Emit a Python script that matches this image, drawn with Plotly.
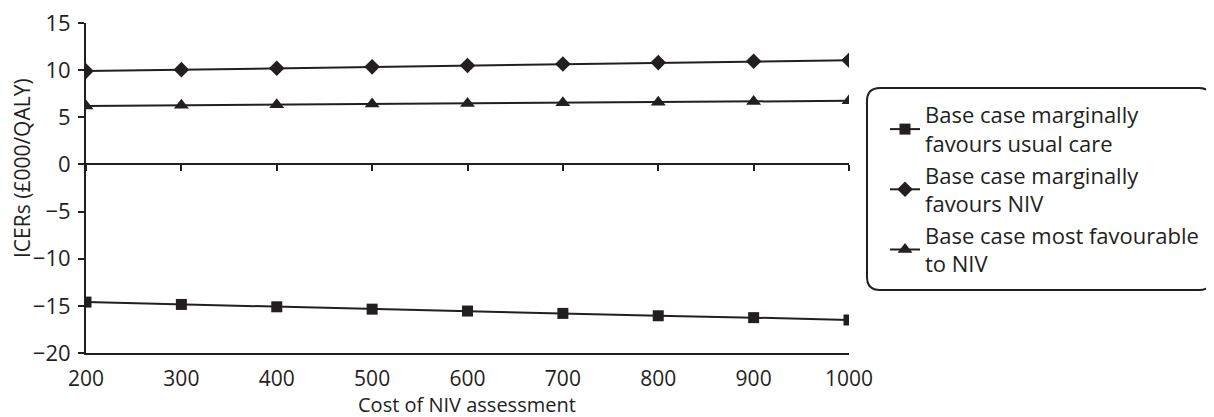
import plotly.graph_objects as go

cost = [200, 300, 400, 500, 600, 700, 800, 900, 1000]
usual_care = [-14.6, -14.85, -15.1, -15.35, -15.55, -15.8, -16.05, -16.25, -16.5]
marg_niv = [9.9, 10.05, 10.2, 10.35, 10.5, 10.65, 10.8, 10.95, 11.05]
most_niv = [6.2, 6.27, 6.34, 6.4, 6.47, 6.54, 6.6, 6.67, 6.75]

names = ["Base case marginally<br>favours usual care",
         "Base case marginally<br>favours NIV",
         "Base case most favourable<br>to NIV"]
symbols = ["square", "diamond", "triangle-up"]
msizes = [11, 12, 13]
series = [usual_care, marg_niv, most_niv]

INK = "#231f20"
FONT = "Open Sans, Noto Sans, DejaVu Sans, sans-serif"

fig = go.Figure()
for nm, sym, ms, vals in zip(names, symbols, msizes, series):
    fig.add_trace(go.Scatter(
        x=cost, y=vals, name=nm, mode="lines+markers",
        line=dict(color=INK, width=2),
        marker=dict(symbol=sym, size=ms, color=INK),
        hoverinfo="x+y"))

# invisible helper trace on the zero-crossing axis
fig.add_trace(go.Scatter(x=cost, y=marg_niv, xaxis="x2", mode="markers",
                         marker=dict(opacity=0), showlegend=False, hoverinfo="skip"))

OFF = 8  # page body margin
W, H = 1214 - OFF, 417 - OFF
L, R, T, B = 86 - OFF, 1214 - 849, 23 - OFF, 417 - 353
pw, ph = W - L - R, H - T - B

def px(x):
    return (x - OFF - L) / pw

def py(y):
    return (H - B - (y - OFF)) / ph

# rounded legend box
x0, x1, y0, y1 = px(867), px(1212), py(290), py(88)
rx, ry = 13 / pw, 13 / ph
path = (f"M {x0+rx},{y1} L {x1-rx},{y1} Q {x1},{y1} {x1},{y1-ry} "
        f"L {x1},{y0+ry} Q {x1},{y0} {x1-rx},{y0} L {x0+rx},{y0} "
        f"Q {x0},{y0} {x0},{y0+ry} L {x0},{y1-ry} Q {x0},{y1} {x0+rx},{y1} Z")

fig.update_layout(
    width=W, height=H,
    margin=dict(l=L, r=R, t=T, b=B, autoexpand=False),
    paper_bgcolor="white", plot_bgcolor="white",
    font=dict(family=FONT, size=22, color=INK),
    showlegend=True,
    legend=dict(x=px(885), y=py(94), xanchor="left", yanchor="top",
                bgcolor="rgba(0,0,0,0)", borderwidth=0,
                font=dict(family=FONT, size=22, color=INK),
                itemwidth=30),
    xaxis=dict(range=[200, 1000], tickmode="array", tickvals=cost,
               ticktext=[str(c) for c in cost],
               showline=True, linecolor=INK, linewidth=2, ticks="",
               showgrid=False, zeroline=False, automargin=False,
               ticklabelstandoff=6, ticklabeloverflow="allow",
               tickfont=dict(size=21, color=INK)),
    xaxis2=dict(range=[200, 1000], overlaying="x", anchor="free",
                position=20 / 35, tickmode="array", tickvals=cost,
                showline=True, linecolor=INK, linewidth=2,
                ticks="outside", ticklen=6, tickwidth=2, tickcolor=INK,
                showticklabels=False, showgrid=False, zeroline=False,
                side="bottom", automargin=False),
    yaxis=dict(range=[-20, 15], dtick=5, tick0=0,
               showline=True, linecolor=INK, linewidth=2,
               ticks="outside", ticklen=6, tickwidth=2, tickcolor=INK,
               showgrid=False, zeroline=False, automargin=False,
               ticklabelstandoff=3, ticklabeloverflow="allow",
               tickfont=dict(size=22, color=INK)),
    shapes=[dict(type="path", path=path, xref="paper", yref="paper",
                 line=dict(color=INK, width=2), fillcolor="rgba(0,0,0,0)")],
    annotations=[
        dict(text="ICERs (£000/QALY)", xref="paper", yref="paper",
             x=px(22), y=py(168), textangle=-90, showarrow=False,
             xanchor="center", yanchor="middle",
             font=dict(family=FONT, size=21, color=INK)),
        dict(text="Cost of NIV assessment", xref="paper", yref="paper",
             x=px(467), y=py(404), showarrow=False,
             xanchor="center", yanchor="middle",
             font=dict(family=FONT, size=20, color=INK)),
    ],
)

fig.write_html("out.html")
